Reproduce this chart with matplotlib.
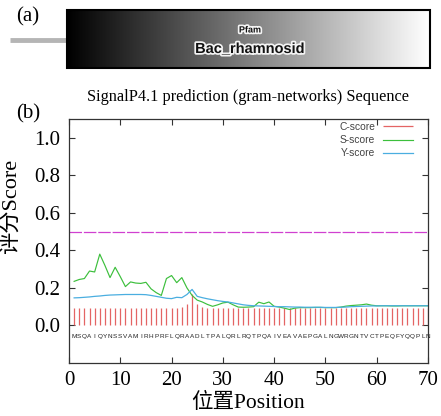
import numpy as np
import matplotlib
matplotlib.use("Agg")
import matplotlib.pyplot as plt
import matplotlib.patheffects as pe
from matplotlib.patches import Rectangle

# ---------------- data ----------------
sequence = "MSQAIQYNSSVAMIRHPRFLQRAADLTPALQRLRQTPQAIVEAVAEPGALNGWRGNTVCTPEQFYQQPLN"
positions = list(range(1, 71))

c_score = [0.095] * 21 + [0.100, 0.115, 0.170, 0.115, 0.100] + [0.095] * 44

s_score = [0.235, 0.245, 0.250, 0.290, 0.285, 0.380, 0.320, 0.255, 0.310, 0.260,
           0.207, 0.232, 0.226, 0.224, 0.230, 0.195, 0.175, 0.160, 0.250, 0.266,
           0.228, 0.255, 0.200, 0.160, 0.135, 0.125, 0.112, 0.102, 0.110, 0.120,
           0.124, 0.110, 0.098, 0.097, 0.098, 0.100, 0.124, 0.116, 0.125, 0.102,
           0.098, 0.092, 0.085, 0.092, 0.095, 0.095, 0.095, 0.096, 0.096, 0.095,
           0.095, 0.095, 0.098, 0.103, 0.106, 0.108, 0.110, 0.114, 0.108, 0.105,
           0.105, 0.105, 0.104, 0.104, 0.105, 0.105, 0.105, 0.105, 0.105, 0.105]

y_score = [0.147, 0.148, 0.150, 0.152, 0.155, 0.157, 0.160, 0.162, 0.163, 0.164,
           0.165, 0.165, 0.165, 0.165, 0.164, 0.160, 0.155, 0.150, 0.145, 0.143,
           0.150, 0.148, 0.165, 0.192, 0.155, 0.148, 0.142, 0.137, 0.132, 0.128,
           0.125, 0.120, 0.115, 0.110, 0.107, 0.105, 0.104, 0.103, 0.102, 0.101,
           0.100, 0.100, 0.099, 0.098, 0.098, 0.097, 0.097, 0.097, 0.097, 0.096,
           0.096, 0.096, 0.097, 0.098, 0.100, 0.101, 0.102, 0.103, 0.104, 0.104,
           0.105, 0.105, 0.105, 0.105, 0.105, 0.105, 0.105, 0.105, 0.105, 0.105]

cutoff = 0.5
xticks = [0, 10, 20, 30, 40, 50, 60, 70]
yticks = [0.0, 0.2, 0.4, 0.6, 0.8, 1.0]

title = "SignalP4.1 prediction (gram-networks) Sequence"
xlabel = "位置Position"
ylabel = "评分Score"
domain_db = "Pfam"
domain_name = "Bac_rhamnosid"

SERIF = ["Liberation Serif", "Noto Sans CJK SC"]

W, H = 441, 416
fig = plt.figure(figsize=(W / 100, H / 100), dpi=100)

# ---------------- panel (a) ----------------
axa = fig.add_axes([0, 0, 1, 1])
axa.set_xlim(0, W)
axa.set_ylim(H, 0)
axa.axis("off")
axa.plot([10, 66], [40, 40], color="#b5b5b5", lw=3.5, solid_capstyle="butt")
grad = np.linspace(0, 1, 256).reshape(1, -1)
axa.imshow(grad, cmap="gray", extent=[67, 430, 68, 10], aspect="auto", zorder=1)
axa.add_patch(Rectangle((67, 10), 363, 58, fill=False, edgecolor="black", lw=1.5, zorder=2))
glow = [pe.withStroke(linewidth=2.5, foreground="#f4f4f4")]
axa.text(250, 30, domain_db, ha="center", va="center", fontsize=6.5, fontweight="bold",
         family="Liberation Sans", color="#111111", path_effects=glow, zorder=3)
axa.text(250, 49, domain_name, ha="center", va="center", fontsize=10.5, fontweight="bold",
         family="Liberation Sans", color="#111111", path_effects=glow, zorder=3)
axa.text(16, 17, "(a)", ha="left", va="center", fontsize=15, family=SERIF)

# ---------------- panel (b) ----------------
left, right, top, bottom = 69, 428, 119, 363
ax = fig.add_axes([left / W, 1 - bottom / H, (right - left) / W, (bottom - top) / H])

ax.vlines(positions, 0, c_score, colors="#e46464", lw=0.9, label="C-score")
ax.plot(positions, s_score, color="#3cbf3c", lw=0.85, label="S-score")
ax.plot(positions, y_score, color="#4aaee0", lw=0.9, label="Y-score")
ax.axhline(cutoff, color="#d040d0", lw=0.9, dashes=(10, 1.5))

for i, ch in enumerate(sequence):
    ax.text(positions[i], -0.06, ch, ha="center", va="center", fontsize=4.6,
            family="Liberation Sans", color="#222222")

ax.set_xlim(0, 70)
ax.set_ylim(-0.2, 1.1)
ax.set_xticks(xticks)
ax.set_yticks(yticks)
ax.set_xticklabels([str(v) for v in xticks], family=SERIF, fontsize=15)
ax.set_yticklabels([f"{v:.1f}" for v in yticks], family=SERIF, fontsize=15)
ax.tick_params(direction="in", length=4, width=0.8, top=True, right=True,
               color="#333333", pad=6)
for s in ax.spines.values():
    s.set_color("#333333")
    s.set_linewidth(0.9)

leg = ax.legend(loc="upper right", frameon=False, markerfirst=False,
                prop={"family": "Liberation Sans", "size": 7.4},
                handlelength=2.9, labelspacing=0.32, borderaxespad=0.0,
                bbox_to_anchor=(0.97, 1.005))
for t in leg.get_texts():
    t.set_color("#444444")

ax.set_xlabel(xlabel, family=SERIF, fontsize=15.5, labelpad=2)
ax.set_ylabel(ylabel, family=SERIF, fontsize=16)
ax.yaxis.set_label_coords(-0.135, 0.64)

fig.text(248 / W, 1 - 97 / H, title, ha="center", va="center", fontsize=11.7, family=SERIF)
fig.text(16 / W, 1 - 114 / H, "(b)", ha="left", va="center", fontsize=15, family=SERIF)

fig.savefig("out.png", dpi=100)
